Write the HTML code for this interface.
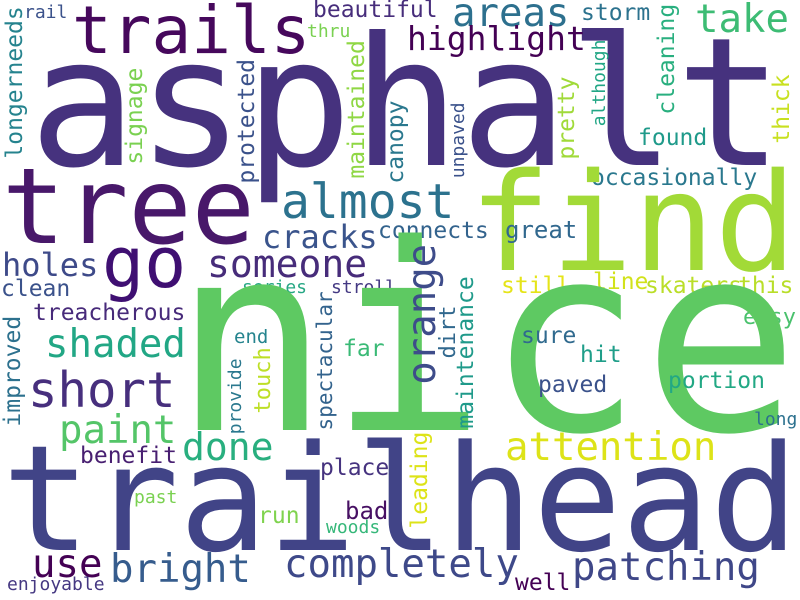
<!DOCTYPE html>
<html><head><meta charset="utf-8"><style>
html,body{margin:0;padding:0;background:#fff;}
svg{display:block;}
text{font-family:"DejaVu Sans Mono","Liberation Mono",monospace;}
</style></head><body>
<svg id="cloud" width="800" height="600" viewBox="0 0 800 600" xmlns="http://www.w3.org/2000/svg">
<rect width="800" height="600" fill="#fff"/>
</svg>
<script>
var H=[
["asphalt",29,165,179,"#46327e"],["tree",2,243,105,"#48186a"],["trails",72,53,66,"#46085c"],
["rail",24,18,18,"#3b528b"],["beautiful",313,17,23,"#472d7b"],["thru",307,37,18,"#7ad151"],
["areas",452,26,39,"#2d708e"],["highlight",407,50,33,"#440154"],["storm",581,20,23,"#2c728e"],
["take",695,32,39,"#3dbc74"],["found",638,145,23,"#1f9a8a"],["occasionally",591,185,23,"#2a788e"],
["find",469,270,136,"#a2da37"],["almost",281,218,48,"#2c728e"],["connects",378,238,23,"#33638d"],
["great",505,238,24,"#31688e"],["cracks",262,248,32,"#3a548c"],["someone",207,277,38,"#472c7a"],
["holes",2,276,32,"#3e4a89"],["go",102,287,70,"#3f0f72"],["clean",1,296,23,"#3b528b"],
["series",242,293,18,"#26a784"],["stroll",331,293,18,"#443983"],["still",501,293,23,"#e5e419"],
["line",593,289,23,"#d2e21b"],["skaters",645,293,23,"#bade28"],["this",738,293,23,"#b8de29"],
["treacherous",33,320,23,"#472a7a"],["easy",743,324,22,"#4ac16d"],["nice",173,430,260,"#5ec962"],
["end",234,343,19,"#25848e"],["sure",521,343,23,"#306a8e"],["far",343,356,23,"#3aba76"],
["shaded",45,357,39,"#22a785"],["hit",580,362,23,"#1f9e89"],["portion",668,388,23,"#22a884"],
["paved",538,392,23,"#3b528b"],["short",28,407,49,"#472f7d"],["long",754,425,18,"#2c718e"],
["paint",59,443,39,"#54c568"],["done",182,460,38,"#29af7f"],["attention",505,460,39,"#dde318"],
["benefit",80,463,23,"#481f71"],["place",320,475,23,"#46337f"],["trailhead",2,550,147,"#414487"],
["past",134,503,18,"#7ad151"],["bad",345,519,24,"#471063"],["run",258,523,23,"#7fd34e"],
["woods",326,533,18,"#35b779"],["use",32,577,39,"#440154"],["completely",284,577,39,"#3e4989"],
["bright",110,582,39,"#365c8d"],["patching",572,580,39,"#3f4788"],["enjoyable",7,590,18,"#453882"],
["well",515,590,23,"#440154"]
];
var V=[
["longerneeds",22,157,23,"#25838e"],["signage",142,163,23,"#7ad151"],["protected",254,182,23,"#3b528b"],
["maintained",364,177,23,"#8fd744"],["canopy",403,182,23,"#2a788e"],["unpaved",464,177,18,"#3b528b"],
["pretty",574,158,23,"#a0da39"],["although",605,125,18,"#21a685"],["cleaning",674,113,23,"#29af7f"],
["thick",789,142,23,"#c8e020"],["orange",435,382,39,"#3e4c8a"],["dirt",455,357,22,"#31688e"],
["maintenance",473,427,23,"#1f9a8a"],["spectacular",332,429,21,"#33638d"],["touch",270,412,22,"#bddf26"],
["provide",241,433,18,"#2a788e"],["improved",20,425,23,"#2d718e"],["leading",427,527,23,"#dde318"]
];
var svg=document.getElementById('cloud');
var NS="http://www.w3.org/2000/svg";
H.forEach(function(w){
  var t=document.createElementNS(NS,'text');
  t.setAttribute('x',w[1]);t.setAttribute('y',w[2]);
  t.setAttribute('font-size',w[3]);t.setAttribute('fill',w[4]);
  t.textContent=w[0];
  
  
  svg.appendChild(t);
});
V.forEach(function(w){
  var t=document.createElementNS(NS,'text');
  var by=w[2]+0.07*w[3];
  t.setAttribute('transform','translate('+w[1]+','+by+') rotate(-90)');
  t.setAttribute('x',0);t.setAttribute('y',0);
  t.setAttribute('font-size',w[3]);t.setAttribute('fill',w[4]);
  t.textContent=w[0];
  
  
  svg.appendChild(t);
});
</script>
</body></html>
